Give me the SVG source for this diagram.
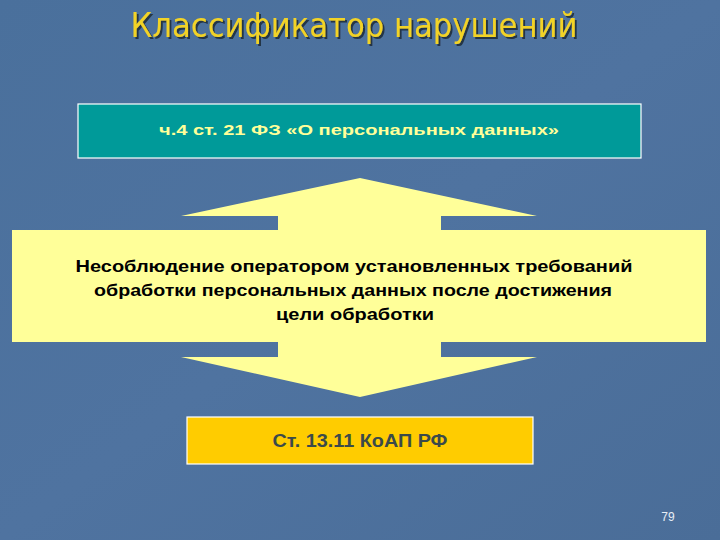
<svg xmlns="http://www.w3.org/2000/svg" width="720" height="540" viewBox="0 0 720 540">
<defs>
<linearGradient id="bg" x1="0" y1="0" x2="1" y2="1">
<stop offset="0" stop-color="#4a709c"/>
<stop offset="0.5" stop-color="#4f73a0"/>
<stop offset="1" stop-color="#4a6d98"/>
</linearGradient>
<filter id="sh" x="-5%" y="-20%" width="110%" height="140%">
<feDropShadow dx="2" dy="2" stdDeviation="0.6" flood-color="#1a2533" flood-opacity="0.8"/>
</filter>
</defs>
<style>
.title{font-family:"DejaVu Sans Condensed","DejaVu Sans",sans-serif;font-size:33px;fill:#f2d327}
.teal{fill:#009a99;stroke:#ffffff;stroke-width:1.2}
.tealtxt{font-family:"Liberation Sans",Arial,sans-serif;font-weight:bold;font-size:15px;fill:#ffff99}
.arrow{fill:#ffff99}
.maintxt{font-family:"Liberation Sans",Arial,sans-serif;font-weight:bold;font-size:17px;fill:#000000}
.orange{fill:#ffcc00;stroke:#ffffff;stroke-width:1.2}
.orangetxt{font-family:"Liberation Sans",Arial,sans-serif;font-weight:bold;font-size:18px;fill:#3b4a4a}
.pg{font-family:"Liberation Sans",Arial,sans-serif;font-size:12px;fill:#e8eef6}
</style>
<rect x="0" y="0" width="720" height="540" fill="url(#bg)"/>
<text class="title" x="354" y="37" text-anchor="middle" filter="url(#sh)" textLength="447" lengthAdjust="spacingAndGlyphs">Классификатор нарушений</text>
<g id="source">
<rect class="teal" x="78" y="104" width="563" height="54"/>
<text class="tealtxt" x="359" y="135" text-anchor="middle" textLength="400" lengthAdjust="spacingAndGlyphs">ч.4 ст. 21 ФЗ «О персональных данных»</text>
</g>
<g id="connectors">
<polygon class="arrow" points="360,178 537,216 441,216 441,231 278,231 278,216 181,216"/>
<polygon class="arrow" points="278,341 441,341 441,357 537,357 360,397 181,357 278,357"/>
</g>
<g id="violation">
<rect class="arrow" x="12" y="230" width="694" height="112"/>
<text class="maintxt" x="354" y="272" text-anchor="middle" textLength="557" lengthAdjust="spacingAndGlyphs">Несоблюдение оператором установленных требований</text>
<text class="maintxt" x="353" y="296" text-anchor="middle" textLength="518" lengthAdjust="spacingAndGlyphs">обработки персональных данных после достижения</text>
<text class="maintxt" x="355" y="320" text-anchor="middle" textLength="158" lengthAdjust="spacingAndGlyphs">цели обработки</text>
</g>
<g id="koap">
<rect class="orange" x="187" y="417" width="346" height="47"/>
<text class="orangetxt" x="360" y="447" text-anchor="middle" textLength="175" lengthAdjust="spacingAndGlyphs">Ст. 13.11 КоАП РФ</text>
</g>
<text class="pg" x="668" y="521" text-anchor="middle">79</text>
</svg>
